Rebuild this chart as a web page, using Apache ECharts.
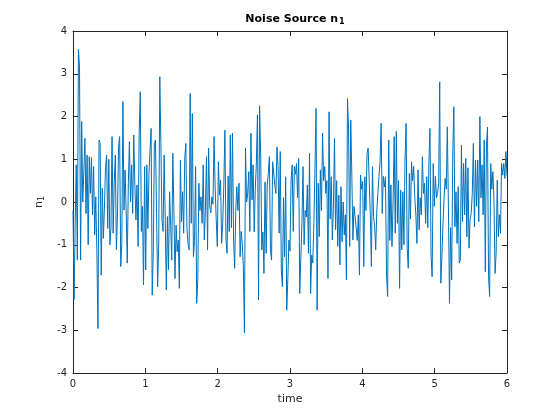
<!DOCTYPE html>
<html>
<head>
<meta charset="utf-8">
<script src="https://cdn.jsdelivr.net/npm/echarts@6/dist/echarts.min.js"></script>
<style>html,body{margin:0;padding:0;background:#fff}#c{width:560px;height:420px}</style>
</head>
<body>
<div id="c"></div>
<script>
const chartTitle = '{a|Noise Source n}{s|1}';
const xLabel = 'time';
const yLabel = '{a|n}{s|1}';
const tStart = 0;
const tEnd = 6;
const xTicks = [0, 1, 2, 3, 4, 5, 6];
const yTicks = [-4, -3, -2, -1, 0, 1, 2, 3, 4];
const n1 = [
  -0.2, -2.28, -0.5, 0.87, -1.36, 3.57, 3.17, -1.36, 1.88, 0.0, 0.71, 1.49, -0.27, 1.1, -1.0, 1.06, 0.2, 1.04, -0.3, 0.83,
  -0.77, 0.12, -1.16, -2.96, 1.45, 1.37, -1.71, 0.32, -0.85, -0.1, 0.83, 1.1, -0.62, 1.0, -1.0, -0.6, 1.53, -0.73, 0.44, 1.1,
  -1.12, -0.3, 1.29, 1.53, -1.51, -0.97, 2.35, -0.19, 0.75, -0.2, -1.43, 0.44, 1.41, 0.0, 0.87, -0.27, 1.57, 0.4, -0.42, 0.4,
  -1.04, 1.62, 2.58, -0.69, -0.1, -1.94, 0.83, -1.59, 0.87, -0.62, 0.63, 1.22, 1.72, -2.18, -1.16, 1.37, 1.45, -0.27, -1.98, -1.0,
  2.93, 1.37, -0.42, -0.69, 1.1, -0.4, -2.06, -0.34, -1.59, 0.24, -0.54, -1.36, 1.14, -0.2, -1.79, -0.54, -1.16, -0.89, -2.02, 0.98,
  -0.46, 0.24, -0.73, 1.02, 1.37, -0.62, -0.97, -1.12, 2.54, -0.5, 2.07, -1.28, -0.9, 0.83, -2.37, -1.82, 0.44, -0.2, 0.12, -0.5,
  0.87, -0.89, -0.2, 1.06, -1.12, 1.26, -0.1, -0.25, 0.12, -0.05, 1.53, 0.35, -0.42, -1.04, 0.94, 0.16, 0.51, -0.97, -0.5, 0.4,
  1.68, -0.89, -1.2, 0.61, -0.69, 1.57, -0.6, 1.61, -0.89, -1.55, -0.2, 0.36, -0.2, 0.44, -1.28, -0.69, -0.97, -1.51, -3.06, 1.26,
  0.0, 0.2, 0.71, -0.69, 1.61, 0.05, 0.87, -0.7, 0.3, 0.9, 2.04, -2.29, 2.25, 1.02, -1.12, -0.7, -1.67, 0.47, -1.2, 0.4,
  0.67, 1.06, -1.12, -1.36, 0.94, 0.9, 0.4, 0.2, 1.29, 0.83, -0.73, 1.18, -1.59, -1.98, 0.1, -1.28, 0.59, -2.53, -1.8, -0.89,
  -1.15, 0.51, 0.87, -0.69, 0.83, 0.65, 0.9, 0.1, 1.02, -2.14, -1.28, -0.5, 0.83, -1.0, -0.2, -0.35, 0.4, -1.2, 1.14, -2.14,
  -1.24, -1.43, -0.5, 0.79, 2.19, -2.53, 0.44, -0.81, 0.75, -0.2, 1.61, 0.5, 0.83, 0.2, 0.5, -1.79, 2.11, -0.4, 0.59, -0.89,
  -0.15, 1.49, -0.65, 0.5, -1.04, 0.16, -1.47, 0.36, -0.93, 0.0, -0.77, -0.3, -1.82, 2.42, 1.68, -1.04, 1.92, 0.6, -0.89, -0.1,
  -0.35, -0.6, -0.9, -0.3, -1.71, 0.63, 0.3, 0.48, -1.51, 0.59, -0.2, 1.14, 1.26, 0.5, -0.27, -1.51, 0.83, -0.34, -0.55, -1.12,
  -0.2, 0.2, 0.6, 0.94, 1.84, -0.27, 0.6, 0.35, 0.59, -1.75, -2.21, 1.45, -0.9, 0.4, -1.04, 0.0, 1.53, -0.73, 1.65, -0.5,
  0.5, -2.02, 0.28, -1.12, 0.24, -1.0, 0.98, 1.84, -1.08, -1.55, 0.67, -0.4, 0.94, 0.5, 0.83, 0.1, -0.3, -0.97, 0.75, -0.65,
  0.1, -0.3, 1.06, 0.2, 0.44, -0.5, 0.59, -0.6, 0.9, 1.72, -1.24, -1.75, 0.9, -0.1, 0.6, 0.1, 0.2, 0.44, 2.81, -1.9,
  -1.28, -0.5, 0.1, 0.55, 0.3, 1.76, -0.1, -2.37, -0.6, -1.82, 1.1, 2.23, -0.58, 0.24, -0.97, 0.36, -1.43, -1.36, 1.33, -0.46,
  0.9, -0.3, 1.02, -0.81, 0.8, -1.08, -0.4, -0.27, 0.2, 1.37, -0.58, 0.98, -0.1, 0.98, -0.46, 2.0, 0.1, 0.87, -0.3, 1.45,
  -1.63, 1.26, 1.75, -1.75, -2.21, 0.9, 0.3, 0.71, 0.0, -1.67, -1.2, 0.51, -0.81, -0.3, -0.73, 0.9, 0.63, 0.9, 0.55, 1.18,
  0.6
];

const dt = (tEnd - tStart) / (n1.length - 1);
const seriesData = n1.map((v, i) => [tStart + i * dt, v]);

const axisColor = '#262626';
const font = 'DejaVu Sans, Liberation Sans, sans-serif';

function xAxisCfg(pos, showLabel) {
  return {
    type: 'value', position: pos, min: xTicks[0], max: xTicks[xTicks.length - 1], interval: 1,
    axisLine: { show: true, onZero: false, lineStyle: { color: axisColor, width: 1 } },
    axisTick: { show: true, inside: true, length: 5, lineStyle: { color: axisColor, width: 1 } },
    axisLabel: { show: showLabel, color: axisColor, fontSize: 10, fontFamily: font, margin: 6 },
    splitLine: { show: false },
    name: showLabel ? xLabel : '', nameLocation: 'middle', nameGap: 21,
    nameTextStyle: { color: axisColor, fontSize: 11, fontFamily: font }
  };
}
function yAxisCfg(pos, showLabel) {
  return {
    type: 'value', position: pos, min: yTicks[0], max: yTicks[yTicks.length - 1], interval: 1,
    axisLine: { show: true, onZero: false, lineStyle: { color: axisColor, width: 1 } },
    axisTick: { show: true, inside: true, length: 5, lineStyle: { color: axisColor, width: 1 } },
    axisLabel: { show: showLabel, color: axisColor, fontSize: 10, fontFamily: font, margin: 6 },
    splitLine: { show: false },
    name: showLabel ? yLabel : '', nameLocation: 'middle', nameGap: 23, nameRotate: 90,
    nameTextStyle: {
      color: axisColor, fontSize: 11, fontFamily: font,
      rich: {
        a: { fontSize: 11, fontFamily: font, color: axisColor, lineHeight: 13 },
        s: { fontSize: 8, fontFamily: font, color: axisColor, lineHeight: 8, padding: [7, 0, 0, 0], verticalAlign: 'bottom' }
      }
    }
  };
}

const chart = echarts.init(document.getElementById('c'), null, { renderer: 'canvas' });
chart.setOption({
  animation: false,
  backgroundColor: '#ffffff',
  title: {
    text: chartTitle, left: 290, textAlign: 'center', top: 8,
    textStyle: {
      fontSize: 11, fontWeight: 'bold', color: '#000', fontFamily: font,
      rich: {
        a: { fontSize: 11, fontWeight: 'bold', fontFamily: font, color: '#000', lineHeight: 13 },
        s: { fontSize: 8, fontWeight: 'bold', fontFamily: font, color: '#000', lineHeight: 8, padding: [7, 0, 0, 1], verticalAlign: 'bottom' }
      }
    }
  },
  grid: { left: 73, right: 53, top: 31, bottom: 47, containLabel: false },
  xAxis: [xAxisCfg('bottom', true), xAxisCfg('top', false)],
  yAxis: [yAxisCfg('left', true), yAxisCfg('right', false)],
  series: [{
    type: 'line', data: seriesData, xAxisIndex: 0, yAxisIndex: 0,
    symbol: 'none', showSymbol: false,
    lineStyle: { color: '#0072BD', width: 1 }
  }]
});
</script>
</body>
</html>
